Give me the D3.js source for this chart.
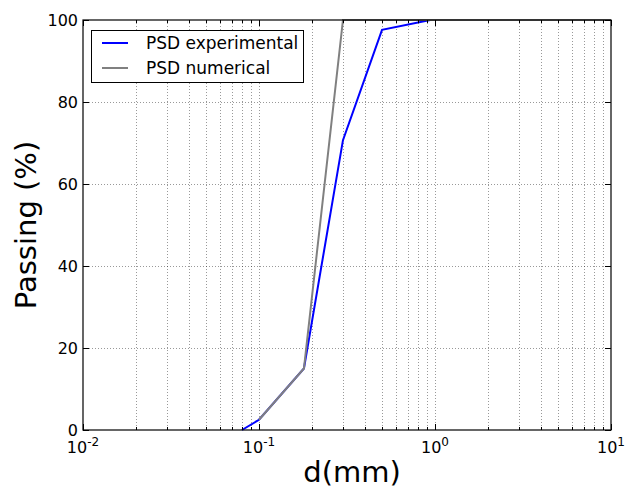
<!DOCTYPE html>
<html><head><meta charset="utf-8">
<script src="https://cdn.jsdelivr.net/npm/d3@7"></script>
<style>body{margin:0;background:#fff}svg{display:block}text{font-family:"DejaVu Sans",sans-serif}</style>
</head><body><svg id="c" width="627" height="491"></svg>
<script>
const expD = [0.08, 0.1, 0.18, 0.3, 0.5, 0.94, 10];
const expP = [0, 2.5, 15, 70.7, 97.6, 100, 100];
const numD = [0.1, 0.18, 0.3, 10];
const numP = [2.5, 15, 100, 100];
const yTicks = [0, 20, 40, 60, 80, 100];
const xExps = [-2, -1, 0, 1];
const seriesNames = ["PSD experimental", "PSD numerical"];
const seriesColors = ["#0000ff", "#808080"];

const svg = d3.select("#c");
const L = 83, R = 611, T = 20, B = 430;
const x = d3.scaleLog().domain([0.01, 10]).range([L, R]);
const y = d3.scaleLinear().domain([0, 100]).range([B, T]);

const minor = [];
for (let e = -2; e < 1; e++) for (let k = 2; k <= 9; k++) minor.push(k * Math.pow(10, e));
const major = xExps.map(e => Math.pow(10, e));

const g = svg.append("g");
g.selectAll(".gx").data(minor.concat(major.slice(1, 3))).enter().append("line")
  .attr("x1", d => Math.round(x(d)) + 0.5).attr("x2", d => Math.round(x(d)) + 0.5)
  .attr("y1", T).attr("y2", B).attr("stroke", "#000").attr("stroke-opacity", 0.4)
  .attr("stroke-width", 1).attr("stroke-dasharray", "1,2");
g.selectAll(".gy").data(yTicks.slice(1, 5)).enter().append("line")
  .attr("x1", L).attr("x2", R).attr("y1", d => Math.round(y(d)) + 0.5).attr("y2", d => Math.round(y(d)) + 0.5)
  .attr("stroke", "#000").attr("stroke-opacity", 0.4)
  .attr("stroke-width", 1).attr("stroke-dasharray", "1,2");

const line = d3.line().x(d => x(d[0])).y(d => y(d[1]));
g.append("path").datum(expD.map((d, i) => [d, expP[i]])).attr("d", line)
  .attr("fill", "none").attr("stroke", seriesColors[0]).attr("stroke-width", 2);
g.append("path").datum(numD.map((d, i) => [d, numP[i]])).attr("d", line)
  .attr("fill", "none").attr("stroke", seriesColors[1]).attr("stroke-width", 2);

const tk = svg.append("g").attr("stroke", "#000").attr("stroke-width", 1);
major.forEach(d => {
  const xx = Math.round(x(d)) + 0.5;
  tk.append("line").attr("x1", xx).attr("x2", xx).attr("y1", B).attr("y2", B - 6);
  tk.append("line").attr("x1", xx).attr("x2", xx).attr("y1", T).attr("y2", T + 6);
});
minor.forEach(d => {
  const xx = Math.round(x(d)) + 0.5;
  tk.append("line").attr("x1", xx).attr("x2", xx).attr("y1", B).attr("y2", B - 3);
  tk.append("line").attr("x1", xx).attr("x2", xx).attr("y1", T).attr("y2", T + 3);
});
yTicks.forEach(d => {
  const yy = Math.round(y(d)) + 0.5;
  tk.append("line").attr("x1", L).attr("x2", L + 6).attr("y1", yy).attr("y2", yy);
  tk.append("line").attr("x1", R).attr("x2", R - 6).attr("y1", yy).attr("y2", yy);
});

svg.append("rect").attr("x", L).attr("y", T).attr("width", R - L).attr("height", B - T)
  .attr("fill", "none").attr("stroke", "#000").attr("stroke-width", 1.2);

yTicks.forEach(d => {
  svg.append("text").attr("x", L - 5).attr("y", y(d)).attr("dy", "0.35em")
    .attr("text-anchor", "end").attr("font-size", 16).attr("fill", "#000").text(d);
});
xExps.forEach(e => {
  const t = svg.append("text").attr("x", x(Math.pow(10, e))).attr("y", 453)
    .attr("text-anchor", "middle").attr("font-size", 16).attr("fill", "#000");
  t.append("tspan").text("10");
  t.append("tspan").attr("dy", -7).attr("font-size", 12).text(String(e));
});

svg.append("text").attr("x", (L + R) / 2 + 5).attr("y", 482).attr("text-anchor", "middle")
  .attr("font-size", 29).attr("fill", "#000").text("d(mm)");
svg.append("text").attr("transform", `translate(36,${(T + B) / 2}) rotate(-90)`)
  .attr("text-anchor", "middle").attr("font-size", 29).attr("fill", "#000").text("Passing (%)");

const lg = svg.append("g");
lg.append("rect").attr("x", 91.5).attr("y", 30.5).attr("width", 212).attr("height", 52)
  .attr("fill", "#fff").attr("stroke", "#000").attr("stroke-width", 1);
seriesNames.forEach((n, i) => {
  const yy = 43 + i * 25;
  lg.append("line").attr("x1", 102).attr("x2", 128).attr("y1", yy).attr("y2", yy)
    .attr("stroke", seriesColors[i]).attr("stroke-width", 2);
  lg.append("text").attr("x", 146).attr("y", yy).attr("dy", "0.35em")
    .attr("font-size", 17).attr("fill", "#000").text(n);
});
</script></body></html>
